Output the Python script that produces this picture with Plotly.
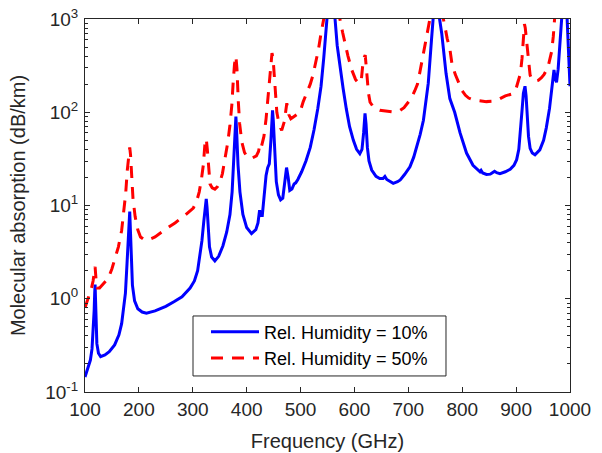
import plotly.graph_objects as go

# frequency (GHz) and molecular absorption (dB/km)
freq_rh10 = [100, 105, 110, 113, 115.5, 117, 118, 118.75, 119.5, 120.5, 122, 125, 129,
             137, 145, 155, 163, 168, 172, 175, 178, 180, 181.5, 183, 184.5, 186, 188,
             192, 198, 206, 214, 230, 250, 265, 280, 295, 303, 309, 313, 317, 320.5,
             323.5, 325, 326.5, 328.5, 331, 335, 341, 348, 356, 363, 369, 373, 376,
             378.5, 380, 381.5, 384, 387.5, 393, 400, 409, 417, 421, 424, 426, 429,
             433, 436, 439, 442, 445, 448, 449.5, 452, 455, 459, 463, 467, 470, 474,
             477, 480, 484, 488, 491, 495, 502, 510, 518, 525, 532, 538, 543, 547,
             549, 553, 557, 561, 564, 568, 573, 579, 585, 591, 598, 604, 610, 614,
             617, 619.6, 621.5, 624, 627, 632, 640, 647, 653, 656.5, 660, 666, 672,
             680, 685, 693, 703, 710, 716, 722, 728, 733, 737, 743, 746, 749, 752.5,
             755, 758, 762, 766, 770, 777, 786, 796, 808, 820, 827, 833, 835, 838,
             845, 852, 856, 860, 864, 870, 880, 889, 896, 901, 905, 908, 911, 913.5,
             916.5, 918.5, 920.5, 923, 926, 930, 935, 944, 951, 956, 962, 966, 968.5,
             970.3, 972.5, 975, 978, 981, 984.5, 988, 991, 995, 998, 1000]
abs_rh10 = [0.145, 0.175, 0.22, 0.29, 0.45, 0.75, 1.15, 1.42, 1.0, 0.55, 0.33, 0.26, 0.24,
            0.25, 0.27, 0.32, 0.41, 0.54, 0.78, 1.15, 2.4, 4.8, 7.4, 8.6, 5.0, 2.4, 1.4,
            0.95, 0.78, 0.72, 0.70, 0.74, 0.83, 0.93, 1.05, 1.3, 1.55, 2.0, 2.8, 4.2, 6.8,
            10.5, 11.8, 9.5, 5.5, 3.6, 2.8, 2.55, 2.85, 3.7, 5.2, 8.0, 14, 28,
            60, 90, 60, 27, 14, 8.0, 5.8, 5.0, 5.5, 6.5, 8.9, 7.8, 7.8,
            13, 21, 25.5, 28, 50, 105, 80, 35, 18, 13, 11.5, 12, 16, 25.5,
            20, 14.5, 15, 17, 17.5, 19, 23, 30, 42, 65, 110, 190, 380, 750,
            1000, 4000, 20000, 4000, 1000, 520, 310, 180, 108, 70, 50, 40, 36, 40,
            60, 97, 75, 42, 30, 24, 20.5, 19.5, 19.5, 20.5, 19, 18, 17.3,
            18, 18.8, 21.5, 26, 33, 43, 58, 82, 130, 205, 600, 1000, 5000, 20000,
            5000, 1000, 700, 420, 260, 140, 100, 60, 36.5, 27, 24.5, 23, 23.8, 22.3,
            21.5, 21.7, 22.5, 23.3, 22.5, 22, 23, 24.5, 27, 31, 40, 60, 105, 160,
            190, 150, 85, 55, 41, 36.5, 35, 39.5, 50, 68, 110, 170, 240,
            285, 230, 210, 290, 520, 1000, 8000, 3000, 800, 320, 190]

freq_rh50 = [100, 104, 108, 112, 115, 117, 118.75, 120.5, 123, 127, 135, 143, 150, 156,
             162, 168, 172, 175.5, 178.5, 181, 183, 184.5, 186.5, 189, 193, 198, 203,
             211, 220, 230, 248, 267, 285, 295, 301, 307, 312, 316, 319.5, 322.5, 325,
             327, 329.5, 332, 336, 341, 346, 350, 355, 360, 365, 369, 372.5, 375,
             377.5, 380, 382, 384.5, 387, 391, 396, 400, 405, 409, 414, 418, 422,
             424.5, 427, 432, 436, 439, 442, 445, 447, 449, 452, 456, 460, 465, 470,
             474.5, 478, 482, 488, 495, 499, 505, 512, 518, 523, 528, 533, 538, 543,
             548, 557, 566, 573, 578, 582.5, 588, 595, 602, 608, 613, 616.5, 620,
             622.5, 626, 629, 636, 647, 660, 672, 680, 685, 692, 699, 705, 712, 717,
             722, 727, 731, 735, 740, 746, 752.5, 759, 765, 768, 772, 777, 781, 787,
             794, 800, 806, 812, 820, 833, 845, 855, 862, 870, 880, 888, 894, 900,
             904, 908, 911, 913.5, 915.5, 917, 919, 921, 923, 926, 930, 935, 941,
             947, 952, 956, 960, 963, 966, 969, 972, 980, 988, 995, 1000]
abs_rh50 = [0.80, 0.93, 1.08, 1.3, 1.55, 1.9, 2.2, 1.6, 1.3, 1.3, 1.45, 1.65, 2.1, 2.7,
            3.6, 5.4, 8.5, 13.5, 24, 36, 42, 35, 21, 12, 7.6, 5.5, 4.6,
            4.25, 4.35, 4.6, 5.5, 6.5, 7.8, 8.7, 9.4, 11, 14, 19, 27, 45, 52,
            40, 24, 17, 15.5, 15, 16, 17.5, 22, 32, 48, 73, 120, 210,
            330, 400, 290, 130, 75, 48, 37, 34, 32, 32, 33, 34, 38,
            45, 42, 55, 85, 130, 200, 350, 430, 380, 200, 100, 75, 64, 80,
            125, 95, 85, 90, 97, 100, 130, 165, 200, 250, 330, 465, 700, 1000,
            3000, 50000, 3000, 1000, 720, 550, 400, 285, 225, 203, 230, 370, 410,
            280, 160, 128, 112, 105, 102, 101, 102, 105, 112, 125, 140, 170, 200,
            280, 410, 560, 750, 1000, 5000, 100000, 5000, 1000, 830, 620, 480, 330, 255,
            200, 170, 152, 142, 136, 132, 130, 131, 134, 140, 150, 155, 158, 180,
            213, 260, 380, 700, 880, 800, 600, 420, 320, 250, 222, 215, 220,
            235, 255, 280, 320, 380, 450, 650, 1000, 3000, 20000, 5000, 3000]

y_ticks = [0.1, 1, 10, 100, 1000]
y_ticktext = ['10<sup>-1</sup>', '10<sup>0</sup>', '10<sup>1</sup>',
              '10<sup>2</sup>', '10<sup>3</sup>']
x_ticks = list(range(100, 1001, 100))

ink = '#262626'
font = 'Liberation Sans, Arial, Helvetica, sans-serif'

fig = go.Figure()
fig.add_trace(go.Scatter(x=freq_rh10, y=abs_rh10, mode='lines',
                         name='Rel. Humidity = 10%',
                         line=dict(color='#0000ff', width=3)))
fig.add_trace(go.Scatter(x=freq_rh50, y=abs_rh50, mode='lines',
                         name='Rel. Humidity = 50%',
                         line=dict(color='#ff0000', width=3, dash='12px,9px')))

# legend frame (drawn as a shape so it can be wider than plotly's own box)
fig.add_shape(type='rect', xref='paper', yref='paper',
              x0=0.2227, x1=0.7443, y0=0.043, y1=0.2038,
              line=dict(color=ink, width=1), fillcolor='white', layer='above')

fig.update_layout(
    width=602, height=453,
    margin=dict(l=85, r=32, t=19, b=61),
    paper_bgcolor='white', plot_bgcolor='white',
    font=dict(family=font, size=19, color=ink),
    showlegend=True,
    legend=dict(x=0.2495, y=0.2105, xanchor='left', yanchor='top',
                bgcolor='rgba(0,0,0,0)', borderwidth=0,
                font=dict(size=18, color='black'), itemwidth=48,
                tracegroupgap=2),
)
fig.update_xaxes(
    range=[100, 1000], tickvals=x_ticks, automargin=False,
    showgrid=False, zeroline=False,
    showline=True, linecolor=ink, linewidth=1, mirror='ticks',
    ticks='inside', ticklen=5, tickcolor=ink,
    title=dict(text='Frequency (GHz)', font=dict(size=20), standoff=15),
)
fig.update_yaxes(
    type='log', range=[-1, 3], tickvals=y_ticks, ticktext=y_ticktext,
    automargin=False, ticklabelstandoff=2,
    showgrid=False, zeroline=False,
    showline=True, linecolor=ink, linewidth=1, mirror='ticks',
    ticks='inside', ticklen=5, tickcolor=ink,
    minor=dict(ticks='inside', ticklen=3, tickcolor=ink, showgrid=False,
               tickvals=[m * 10 ** e for e in range(-1, 3) for m in range(2, 10)]),
    title=dict(text='Molecular absorption (dB/km)', font=dict(size=20), standoff=14),
)

# drop the page's default body margin so the figure sits at the window origin
fig.write_html('out.html', config={'displayModeBar': False},
               post_script="document.body.style.margin='0';")
